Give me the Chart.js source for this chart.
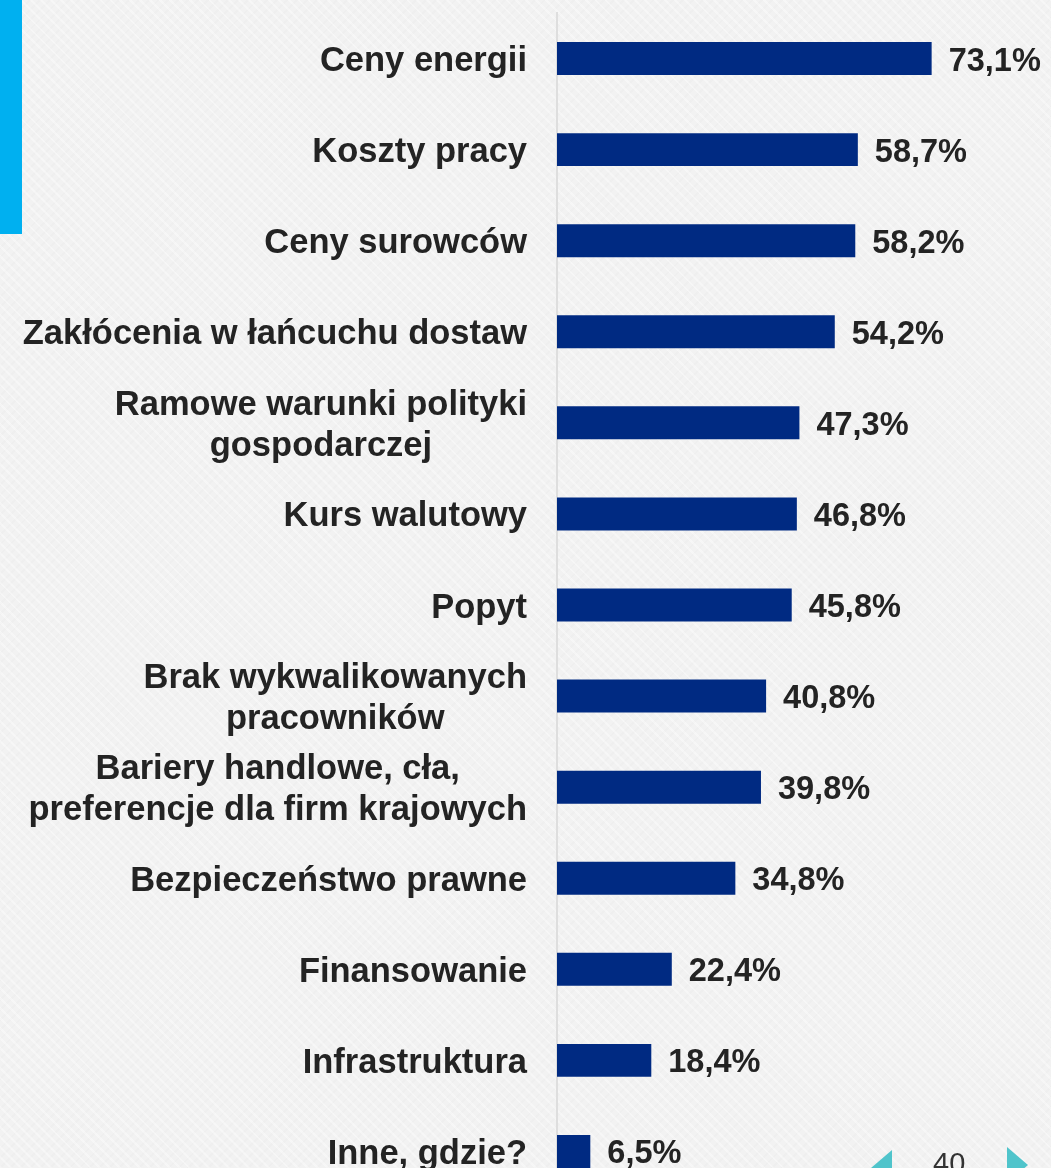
<!DOCTYPE html>
<html>
<head>
<meta charset="utf-8">
<script src="https://cdn.jsdelivr.net/npm/chart.js@4"></script>
<style>
  html, body { margin: 0; padding: 0; overflow: hidden; }
  body {
    width: 1051px; height: 1168px; position: relative;
    background-color: #f2f2f2;
    background-image:
      repeating-linear-gradient(45deg, rgba(255,255,255,0.35) 0 2px, rgba(0,0,0,0) 2px 7px),
      repeating-linear-gradient(-45deg, rgba(0,0,0,0.012) 0 2px, rgba(0,0,0,0) 2px 7px);
  }
  .accent { position: absolute; left: 0; top: 0; width: 22px; height: 234px; background: #00b0f0; }
  .wrap { position: absolute; left: 0; top: 0; width: 1051px; height: 1210px; }
  .nav-left { position: absolute; left: 871px; top: 1150px; width: 0; height: 0;
    border-top: 18px solid transparent; border-bottom: 18px solid transparent; border-right: 21px solid #4fc4cb; }
  .nav-right { position: absolute; left: 1007px; top: 1147px; width: 0; height: 0;
    border-top: 18px solid transparent; border-bottom: 18px solid transparent; border-left: 21px solid #4fc4cb; }
  .page { position: absolute; left: 933px; top: 1149px; font: 29px/29px "Liberation Sans", Arial, sans-serif; color: #333; }
</style>
</head>
<body>
<div class="accent"></div>
<div class="wrap"><canvas id="barChart" width="1051" height="1210"></canvas></div>
<div class="nav-left"></div>
<div class="page">40</div>
<div class="nav-right"></div>
<script>
const categories = [
    'Ceny energii',
    'Koszty pracy',
    'Ceny surowców',
    'Zakłócenia w łańcuchu dostaw',
    ['Ramowe warunki polityki', 'gospodarczej'],
    'Kurs walutowy',
    'Popyt',
    ['Brak wykwalikowanych', 'pracowników'],
    ['Bariery handlowe, cła,', 'preferencje dla firm krajowych'],
    'Bezpieczeństwo prawne',
    'Finansowanie',
    'Infrastruktura',
    'Inne, gdzie?'
];
const shares = [73.1, 58.7, 58.2, 54.2, 47.3, 46.8, 45.8, 40.8, 39.8, 34.8, 22.4, 18.4, 6.5];

const textColor = '#232323';
const labelFont = 'bold 34.5px "Liberation Sans", Arial, sans-serif';
const valueFont = 'bold 32.5px "Liberation Sans", Arial, sans-serif';

// category labels: block right aligned, lines centred to each other
const categoryLabels = {
    id: 'categoryLabels',
    afterDraw(chart) {
        const ctx = chart.ctx;
        const yScale = chart.scales.y;
        const right = 527;
        ctx.save();
        ctx.font = labelFont;
        ctx.fillStyle = textColor;
        ctx.textBaseline = 'alphabetic';
        ctx.textAlign = 'center';
        categories.forEach((cat, i) => {
            const lines = Array.isArray(cat) ? cat : [cat];
            const maxW = Math.max(...lines.map(l => ctx.measureText(l).width));
            const cx = right - maxW / 2;
            const cy = yScale.getPixelForValue(i);
            const lh = 41;
            lines.forEach((line, j) => {
                ctx.fillText(line, cx, cy + 12.5 + (j - (lines.length - 1) / 2) * lh);
            });
        });
        ctx.restore();
    }
};

const valueLabels = {
    id: 'valueLabels',
    afterDatasetsDraw(chart) {
        const ctx = chart.ctx;
        const meta = chart.getDatasetMeta(0);
        ctx.save();
        ctx.font = valueFont;
        ctx.fillStyle = textColor;
        ctx.textBaseline = 'alphabetic';
        ctx.textAlign = 'left';
        meta.data.forEach((bar, i) => {
            const txt = shares[i].toFixed(1).replace('.', ',') + '%';
            ctx.fillText(txt, bar.x + 17, bar.y + 12);
        });
        ctx.restore();
    }
};

const ctx = document.getElementById('barChart');
const barChart = new Chart(ctx, {
    type: 'bar',
    data: {
        labels: categories,
        datasets: [{
            data: shares,
            backgroundColor: '#002a82',
            borderWidth: 0,
            barPercentage: 0.362,
            categoryPercentage: 1
        }]
    },
    options: {
        indexAxis: 'y',
        responsive: false,
        animation: false,
        layout: {
            padding: { top: 13, bottom: 13, left: 0, right: 2 }
        },
        plugins: {
            legend: { display: false },
            tooltip: { enabled: false }
        },
        scales: {
            x: {
                display: false,
                min: 0,
                max: 96
            },
            y: {
                afterFit(scale) {
                    scale.width = 557;
                },
                ticks: { display: false },
                grid: { display: false },
                border: { display: true, color: '#dedede', width: 2 }
            }
        }
    },
    plugins: [categoryLabels, valueLabels]
});
</script>
</body>
</html>
